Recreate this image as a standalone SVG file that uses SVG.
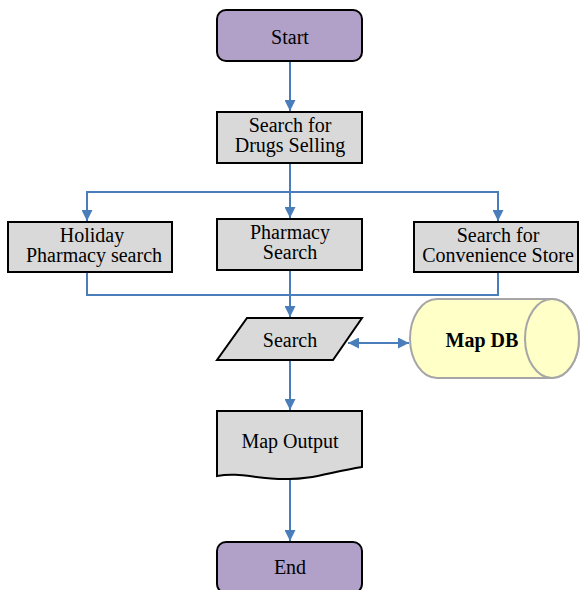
<svg xmlns="http://www.w3.org/2000/svg" width="580" height="590" viewBox="0 0 580 590">
<defs>
<style>
.term{fill:#B1A0C7;stroke:#000;stroke-width:2}
.proc{fill:#D9D9D9;stroke:#000;stroke-width:2}
.t{font-family:"Liberation Serif","Times New Roman",serif;font-size:20px;fill:#000;text-anchor:middle}
.b{font-weight:bold}
.c{fill:none;stroke:#4A7EBB;stroke-width:2}
.db{fill:#FFFFC8;stroke:#A6A6A6;stroke-width:2}
</style>
<marker id="ah" viewBox="0 0 10 10" refX="10" refY="5" markerWidth="12" markerHeight="11" markerUnits="userSpaceOnUse" orient="auto-start-reverse">
<path d="M0,0 L10,5 L0,10 z" fill="#4A7EBB"/>
</marker>
</defs>
<rect width="580" height="590" fill="#fff"/>
<g id="connectors">
<path class="c" d="M290,61 V111" marker-end="url(#ah)"/>
<path class="c" d="M290,163 V192"/>
<path class="c" d="M290,192 V218" marker-end="url(#ah)"/>
<path class="c" d="M290,192 H87 V221" marker-end="url(#ah)"/>
<path class="c" d="M290,192 H498 V221" marker-end="url(#ah)"/>
<path class="c" d="M87,272 V295 H498 V272"/>
<path class="c" d="M290,270 V317" marker-end="url(#ah)"/>
<path class="c" d="M348,343 H409" marker-start="url(#ah)" marker-end="url(#ah)"/>
<path class="c" d="M290,360 V410" marker-end="url(#ah)"/>
<path class="c" d="M290,478 V541" marker-end="url(#ah)"/>
</g>
<g id="start">
<rect class="term" x="217" y="10" width="145" height="51" rx="9"/>
<text class="t" x="290" y="44">Start</text>
</g>
<g id="drugs">
<rect class="proc" x="217" y="112" width="145" height="51"/>
<text class="t" x="290" y="132">Search for</text>
<text class="t" x="290" y="152">Drugs Selling</text>
</g>
<g id="holiday">
<rect class="proc" x="8" y="222" width="164" height="50"/>
<text class="t" x="92" y="242">Holiday</text>
<text class="t" x="94" y="262">Pharmacy search</text>
</g>
<g id="pharmacy">
<rect class="proc" x="217" y="219" width="145" height="51"/>
<text class="t" x="290" y="239">Pharmacy</text>
<text class="t" x="290" y="259">Search</text>
</g>
<g id="convenience">
<rect class="proc" x="414" y="222" width="164" height="50"/>
<text class="t" x="498" y="242">Search for</text>
<text class="t" x="498" y="262">Convenience Store</text>
</g>
<g id="search">
<polygon class="proc" points="247,318 362,318 333,360 217,360"/>
<text class="t" x="290" y="347">Search</text>
</g>
<g id="mapdb">
<path class="db" d="M437,299 H552 A27,39.5 0 0 1 552,378 H437 A27,39.5 0 0 1 437,299 z"/>
<ellipse class="db" cx="552" cy="338.5" rx="27" ry="39.5"/>
<text class="t b" x="482" y="347">Map DB</text>
</g>
<g id="mapoutput">
<path class="proc" d="M217,411 H362 V467 C330,472 310,480 285,479 C255,479 240,472 217,476 z"/>
<text class="t" x="290" y="448">Map Output</text>
</g>
<g id="end">
<rect class="term" x="217" y="542" width="145" height="51" rx="9"/>
<text class="t" x="290" y="574">End</text>
</g>
</svg>
